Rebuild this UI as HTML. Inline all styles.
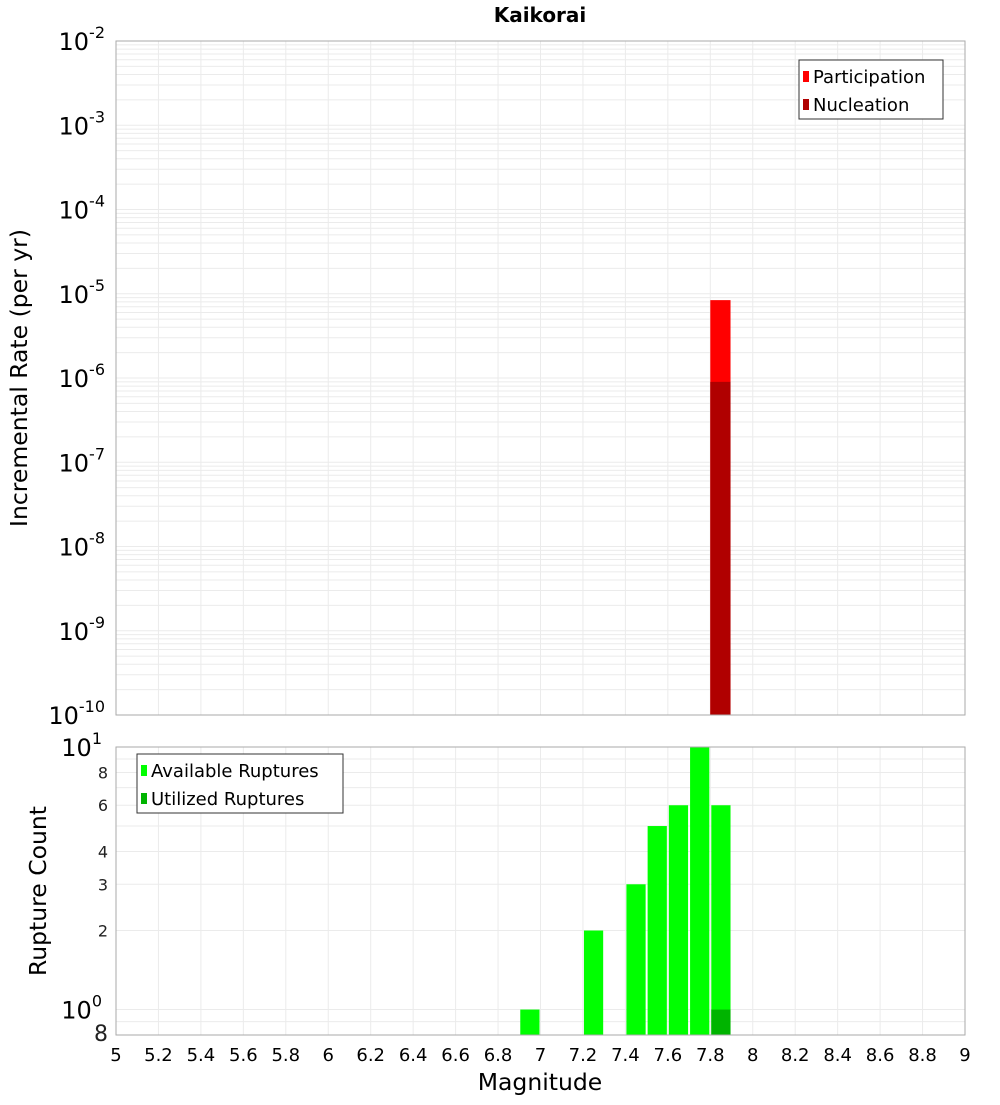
<!DOCTYPE html>
<html><head><meta charset="utf-8"><style>body{margin:0;background:#fff}svg text{font-family:"DejaVu Sans","Liberation Sans",sans-serif}</style></head>
<body>
<svg id="chart" width="1000" height="1100" xmlns="http://www.w3.org/2000/svg">
<text x="540" y="22" font-size="20" font-weight="bold" text-anchor="middle">Kaikorai</text>
<g id="gtop"></g><g id="gbot"></g>
<text transform="translate(27,378) rotate(-90)" font-size="23.5" text-anchor="middle">Incremental Rate (per yr)</text>
<text transform="translate(46,891) rotate(-90)" font-size="23.5" text-anchor="middle">Rupture Count</text>
<text x="540" y="1090" font-size="23.5" text-anchor="middle">Magnitude</text>
</svg>
<script>
const binStarts=[6.9,7.2,7.4,7.5,7.6,7.7,7.8];
const availableCounts=[1,2,3,5,6,10,6];
const utilizedStarts=[7.8];
const utilizedCounts=[1];
const rateStarts=[7.8];
const participationRates=[8.4e-6];
const nucleationRates=[9e-7];
const xTicks=["5","5.2","5.4","5.6","5.8","6","6.2","6.4","6.6","6.8","7","7.2","7.4","7.6","7.8","8","8.2","8.4","8.6","8.8","9"];
const NS="http://www.w3.org/2000/svg";
const L=116,R=965,T1=41,B1=715,T2=747,B2=1035;
const xs=v=>L+(v-5)/4*(R-L);
const y1=v=>T1+(-2-Math.log10(v))/8*(B1-T1);
const y2=v=>T2+(1-Math.log10(v))/(1-Math.log10(0.8))*(B2-T2);
function mk(p,t,a,txt){const e=document.createElementNS(NS,t);for(const k in a)e.setAttribute(k,a[k]);if(txt!=null)e.textContent=txt;p.appendChild(e);return e;}
const gTop=document.getElementById('gtop'),gBot=document.getElementById('gbot');
for(let d=-10;d<-2;d++)for(let m=1;m<10;m++){const yy=y1(m*Math.pow(10,d));const l=mk(gTop,'line',{x1:L,x2:R,y1:yy,y2:yy,stroke:'#ebebeb','stroke-width':1});

}
[0.9,1,2,3,4,5,6,7,8,9].forEach(v=>{const yy=y2(v);const l=mk(gBot,'line',{x1:L,x2:R,y1:yy,y2:yy,stroke:'#ebebeb'});

});
xTicks.forEach((t,i)=>{const xx=xs(parseFloat(t));[[T1,B1,gTop],[T2,B2,gBot]].forEach(([a,b,g])=>{const l=mk(g,'line',{x1:xx,x2:xx,y1:a,y2:b,stroke:'#ebebeb'});

});
const tx=mk(gBot,'text',{x:xx,y:1061,'font-size':18,'text-anchor':'middle'},t);

});
const bw=(R-L)/40;
rateStarts.forEach((s,i)=>{let r=mk(gTop,'rect',{x:xs(s),y:y1(participationRates[i]),width:bw-1,height:B1-y1(participationRates[i]),fill:'#ff0000'});


r=mk(gTop,'rect',{x:xs(s),y:y1(nucleationRates[i]),width:bw-1,height:B1-y1(nucleationRates[i]),fill:'#b00000'});

});
binStarts.forEach((s,i)=>{const r=mk(gBot,'rect',{x:xs(s)+1,y:y2(availableCounts[i]),width:bw-2,height:B2-y2(availableCounts[i]),fill:'#00ff00'});

});
utilizedStarts.forEach((s,i)=>{const r=mk(gBot,'rect',{x:xs(s)+1,y:y2(utilizedCounts[i]),width:bw-2,height:B2-y2(utilizedCounts[i]),fill:'#00b400'});

});
[[T1,B1,gTop],[T2,B2,gBot]].forEach(([a,b,g])=>{const r=mk(g,'rect',{x:L,y:a,width:R-L,height:b-a,fill:'none',stroke:'#aaa'});

});
for(let d=-10;d<=-2;d++){const yy=y1(Math.pow(10,d));const t=mk(gTop,'text',{x:105,y:yy+9,'font-size':24,'text-anchor':'end'});


mk(t,'tspan',{},'10');mk(t,'tspan',{dy:-12,'font-size':16},String(d));}
[[10,'10','1'],[1,'10','0']].forEach(([v,b,e])=>{const t=mk(gBot,'text',{x:102,y:y2(v)+9,'font-size':24,'text-anchor':'end'});


mk(t,'tspan',{},b);mk(t,'tspan',{dy:-12,'font-size':16},e);});
[[8,'8',16],[6,'6',16],[4,'4',16],[3,'3',16],[2,'2',16],[0.8,'8',22]].forEach(([v,s,f])=>{const t=mk(gBot,'text',{x:108,y:y2(v)+6,'font-size':f,'text-anchor':'end',fill:'#222'},s);

});
function legend(g,x0,y0,w,items,name){const grp=mk(g,'g',{});


mk(grp,'rect',{x:x0,y:y0,width:w,height:59,fill:'#fff',stroke:'#333'});
items.forEach(([c,s],i)=>{mk(grp,'rect',{x:x0+4,y:y0+11+i*28,width:6,height:11,fill:c});mk(grp,'text',{x:x0+14,y:y0+23+i*28,'font-size':18},s);});}
legend(gTop,799,60,144,[['#ff0000','Participation'],['#b00000','Nucleation']],'legend-top');
legend(gBot,137,754,206,[['#00ff00','Available Ruptures'],['#00b400','Utilized Ruptures']],'legend-bottom');
</script>
</body></html>
